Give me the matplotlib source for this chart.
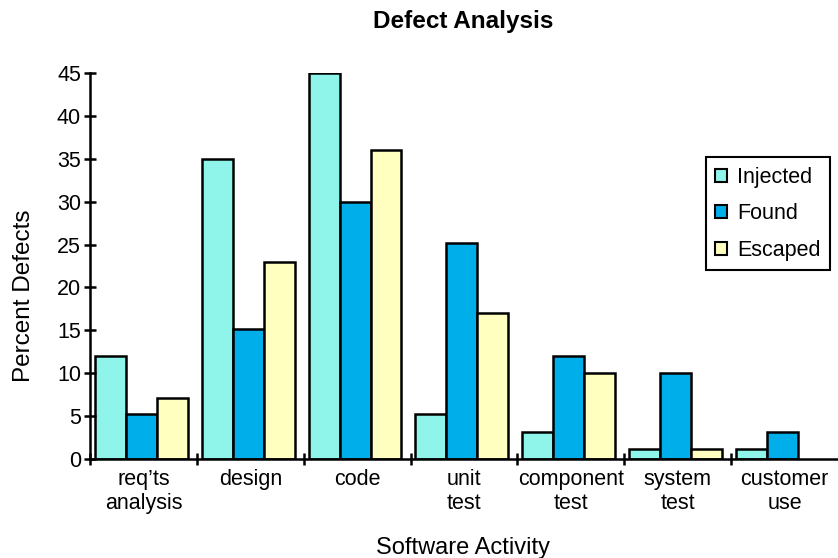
import numpy as np
import matplotlib.pyplot as plt

activities = ["req\u2019ts\nanalysis", "design", "code", "unit\ntest",
              "component\ntest", "system\ntest", "customer\nuse"]
injected = [12, 35, 45, 5.3, 3.1, 1.2, 1.2]
found = [5.3, 15.2, 30, 25.2, 12, 10, 3.1]
escaped = [7.1, 23, 36, 17, 10, 1.2, 0]

plt.rcParams['font.family'] = ['Liberation Sans', 'DejaVu Sans']

fig = plt.figure(figsize=(8.38, 5.58), dpi=100)
ax = fig.add_axes([0.1074, 0.1774, 0.8926, 0.6917])

x = np.arange(len(activities))
w = 0.29
series = [(injected, "#8ff5eb", "Injected"),
          (found, "#00aeea", "Found"),
          (escaped, "#ffffc0", "Escaped")]
for i, (vals, col, name) in enumerate(series):
    pos = x + (i - 1) * w - 0.02
    v = np.array(vals, dtype=float)
    keep = v > 0
    ax.bar(pos[keep], v[keep], width=w, color=col, edgecolor="black",
           linewidth=1.8, label=name)

ax.set_xlim(-0.5, len(activities) - 0.5)
ax.set_ylim(0, 45)
ax.set_yticks(range(0, 46, 5))
ax.set_xticks(np.arange(-0.5, len(activities) - 1, 1.0))
ax.set_xticklabels([])
ax.set_xticks(x, activities, minor=True)
ax.tick_params(axis="x", which="minor", length=0, pad=7, labelsize=15.5)
ax.tick_params(axis="x", which="major", direction="inout", length=9, width=1.8)
ax.tick_params(axis="y", direction="inout", length=9, width=1.8, labelsize=15.5, pad=2)

for s in ["top", "right"]:
    ax.spines[s].set_visible(False)
for s in ["left", "bottom"]:
    ax.spines[s].set_linewidth(1.8)

fig.text(0.553, 0.962, "Defect Analysis", fontsize=17.5, fontweight="bold",
         ha="center", va="center")
fig.text(0.553, 0.018, "Software Activity", fontsize=17, ha="center", va="center")
fig.text(0.029, 0.47, "Percent Defects", fontsize=17.5, ha="center", va="center",
         rotation=90)

leg = fig.legend(loc="upper right", bbox_to_anchor=(0.9905, 0.7186), fontsize=15.5,
                 fancybox=False, framealpha=1, edgecolor="black",
                 handlelength=0.55, handleheight=0.55, handletextpad=0.45,
                 labelspacing=0.72, borderpad=0.45, borderaxespad=0)
leg.get_frame().set_linewidth(1.5)
for h in leg.legend_handles:
    h.set_linewidth(1.5)

fig.savefig("out.png", dpi=100)
